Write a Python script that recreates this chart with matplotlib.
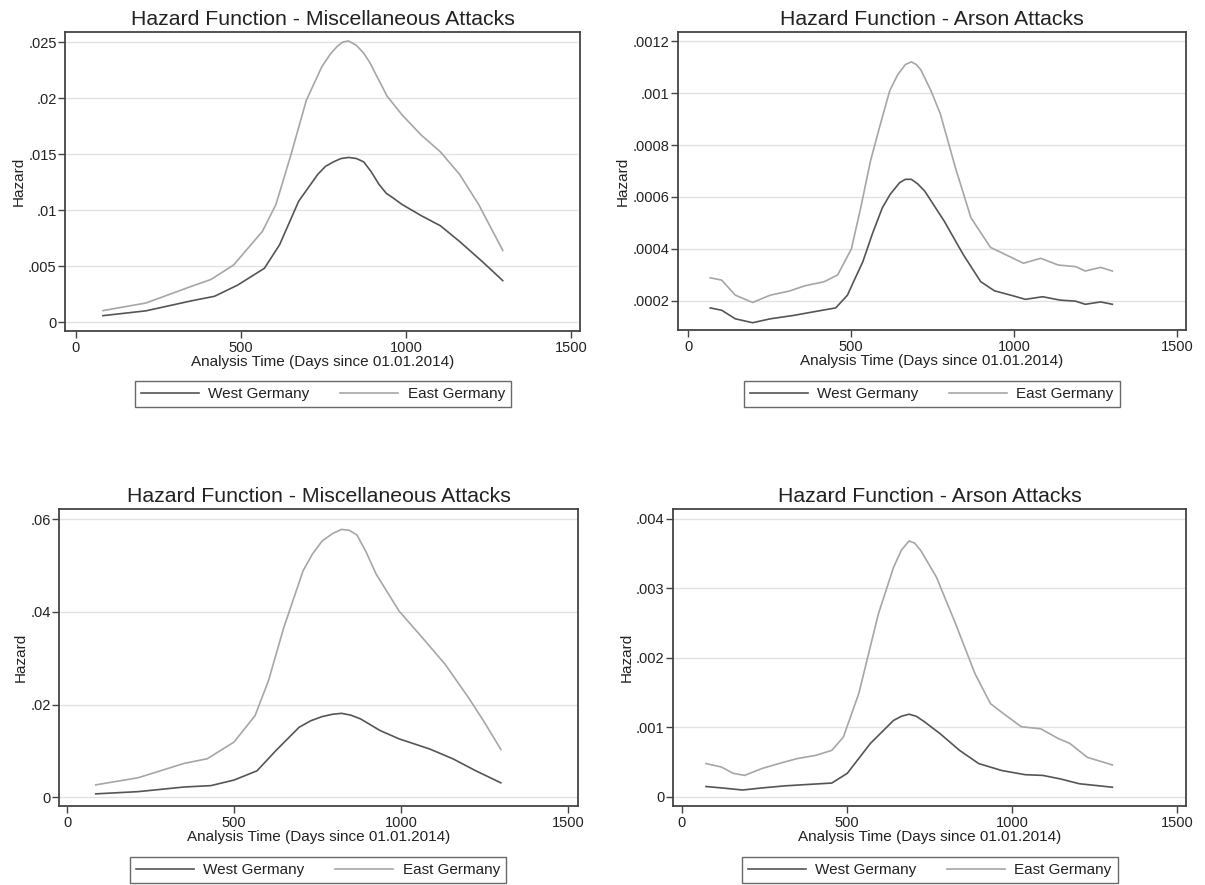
import matplotlib
matplotlib.use("Agg")
import matplotlib.pyplot as plt

plt.rcParams['font.family'] = ['Liberation Sans', 'DejaVu Sans']

W, H = 1205, 885
west_color = '#555555'
east_color = '#a6a6a6'

# panel 1: miscellaneous attacks (top)
misc1_west_x = [82, 212, 351, 420, 490, 571, 617, 675, 733, 756, 780, 803, 826, 850, 872, 895, 918, 940,
                960, 988, 1046, 1104, 1162, 1231, 1293]
misc1_west_y = [0.00057, 0.0010, 0.0019, 0.0023, 0.0033, 0.0048, 0.0069, 0.0108, 0.0132, 0.0139, 0.0143,
                0.0146, 0.0147, 0.0146, 0.0143, 0.0134, 0.0123, 0.0115, 0.0111, 0.0105, 0.0095, 0.0086,
                0.0072, 0.0054, 0.0037]
misc1_east_x = [82, 212, 351, 409, 478, 565, 606, 652, 698, 745, 770, 791, 808, 826, 850, 872, 890, 907,
                925, 942, 988, 1046, 1104, 1162, 1220, 1293]
misc1_east_y = [0.00102, 0.0017, 0.0032, 0.0038, 0.0051, 0.0081, 0.0105, 0.0150, 0.0198, 0.0228, 0.0239,
                0.0246, 0.0250, 0.0251, 0.0247, 0.0240, 0.0232, 0.0222, 0.0212, 0.0202, 0.0185, 0.0167,
                0.0152, 0.0132, 0.0105, 0.0064]

# panel 2: arson attacks (top)
arson1_west_x = [68, 103, 145, 198, 252, 323, 394, 453, 489, 510, 536, 566, 596, 620, 649, 667, 685, 705,
                 726, 786, 845, 898, 940, 999, 1035, 1088, 1142, 1189, 1219, 1266, 1302]
arson1_west_y = [0.000173, 0.000164, 0.000131, 0.000116, 0.000131, 0.000144, 0.000160, 0.000173, 0.000222,
                 0.000280, 0.000350, 0.000460, 0.000558, 0.000610, 0.000655, 0.000668, 0.000668, 0.000650,
                 0.000623, 0.000507, 0.000377, 0.000274, 0.000239, 0.000219, 0.000206, 0.000216, 0.000203,
                 0.000199, 0.000187, 0.000196, 0.000187]
arson1_east_x = [68, 103, 145, 198, 252, 311, 358, 418, 459, 501, 530, 560, 590, 619, 643, 667, 685, 700,
                 714, 745, 774, 821, 868, 928, 976, 1029, 1082, 1136, 1189, 1219, 1266, 1302]
arson1_east_y = [0.000289, 0.000280, 0.000222, 0.000194, 0.000222, 0.000238, 0.000258, 0.000274, 0.000300,
                 0.000400, 0.000560, 0.000740, 0.000880, 0.001010, 0.001070, 0.001110, 0.001120, 0.001110,
                 0.001090, 0.001010, 0.000920, 0.000710, 0.000520, 0.000406, 0.000377, 0.000345, 0.000364,
                 0.000338, 0.000332, 0.000315, 0.000329, 0.000315]

# panel 3: miscellaneous attacks (bottom)
misc2_west_x = [86, 213, 351, 431, 500, 569, 626, 695, 730, 764, 795, 822, 850, 879, 937, 994, 1086, 1155,
                1224, 1299]
misc2_west_y = [0.00072, 0.0012, 0.0022, 0.0025, 0.0037, 0.0057, 0.0101, 0.0151, 0.0165, 0.0174, 0.0179,
                0.0181, 0.0177, 0.0169, 0.0144, 0.0126, 0.0104, 0.0083, 0.0057, 0.0031]
misc2_east_x = [86, 213, 351, 420, 500, 563, 603, 649, 707, 735, 764, 795, 822, 845, 868, 895, 926, 994,
                1063, 1132, 1201, 1247, 1299]
misc2_east_y = [0.00266, 0.0042, 0.0073, 0.0083, 0.0119, 0.0176, 0.0251, 0.0366, 0.0489, 0.0525, 0.0553,
                0.0569, 0.0578, 0.0576, 0.0566, 0.0530, 0.0481, 0.0402, 0.0345, 0.0287, 0.0216, 0.0165,
                0.0103]

# panel 4: arson attacks (bottom)
arson2_west_x = [73, 120, 184, 243, 313, 383, 454, 501, 571, 641, 665, 688, 710, 735, 782, 841, 899, 969,
                 1040, 1093, 1146, 1204, 1304]
arson2_west_y = [0.00015, 0.00013, 0.00010, 0.00013, 0.00016, 0.00018, 0.00020, 0.00034, 0.00077, 0.00110,
                 0.00116, 0.00119, 0.00116, 0.00108, 0.00091, 0.00067, 0.00048, 0.00038, 0.00032, 0.00031,
                 0.00026, 0.00019, 0.00014]
arson2_east_x = [73, 120, 155, 190, 243, 301, 348, 407, 454, 489, 536, 595, 641, 665, 688, 705, 724, 745,
                 771, 829, 888, 935, 982, 1028, 1087, 1140, 1175, 1228, 1304]
arson2_east_y = [0.00048, 0.00043, 0.00034, 0.00031, 0.00041, 0.00049, 0.00055, 0.00060, 0.00067, 0.00086,
                 0.00149, 0.00263, 0.00330, 0.00355, 0.00368, 0.00365, 0.00354, 0.00337, 0.00316, 0.00249,
                 0.00177, 0.00134, 0.00117, 0.00101, 0.00098, 0.00084, 0.00077, 0.00057, 0.00046]

misc1_ticks = [0, 0.005, 0.01, 0.015, 0.02, 0.025]
misc1_labels = ['0', '.005', '.01', '.015', '.02', '.025']
arson1_ticks = [0.0002, 0.0004, 0.0006, 0.0008, 0.001, 0.0012]
arson1_labels = ['.0002', '.0004', '.0006', '.0008', '.001', '.0012']
misc2_ticks = [0, 0.02, 0.04, 0.06]
misc2_labels = ['0', '.02', '.04', '.06']
arson2_ticks = [0, 0.001, 0.002, 0.003, 0.004]
arson2_labels = ['0', '.001', '.002', '.003', '.004']
x_ticks = [0, 500, 1000, 1500]


def rect(left, top, right, bottom):
    return [left / W, 1 - bottom / H, (right - left) / W, (bottom - top) / H]


def draw_panel(fig, box, title, wx, wy, ex, ey, yticks, ylabels, xlim, ylim, legend_center):
    ax = fig.add_axes(rect(*box))
    for yt in yticks:
        ax.axhline(yt, color='#e2e2e2', lw=1.0, zorder=0)
    ax.plot(wx, wy, color=west_color, lw=1.2, label='West Germany', solid_joinstyle='round')
    ax.plot(ex, ey, color=east_color, lw=1.2, label='East Germany', solid_joinstyle='round')
    ax.set_xlim(*xlim)
    ax.set_ylim(*ylim)
    ax.set_xticks(x_ticks)
    ax.set_xticklabels([str(t) for t in x_ticks])
    ax.set_yticks(yticks)
    ax.set_yticklabels(ylabels)
    ax.tick_params(axis='both', direction='out', length=5, width=1.0, color='#444444',
                   labelsize=10.5, labelcolor='#222222', pad=2)
    ax.tick_params(axis='y', pad=1)
    for s in ax.spines.values():
        s.set_color('#444444')
        s.set_linewidth(1.3)
    ax.set_title(title, fontsize=15.3, color='#222222', pad=5)
    ax.set_xlabel('Analysis Time (Days since 01.01.2014)', fontsize=11, color='#222222', labelpad=0)
    ax.set_ylabel('Hazard', fontsize=11, color='#222222', labelpad=2)
    lx, ly = legend_center
    leg = ax.legend(loc='center', bbox_to_anchor=(lx / W, 1 - ly / H), bbox_transform=fig.transFigure,
                    ncol=2, fontsize=11, frameon=True, fancybox=False, handlelength=3.8,
                    handletextpad=0.6, columnspacing=2.0, borderpad=0.4, edgecolor='#444444')
    leg.get_frame().set_linewidth(1.0)
    for t in leg.get_texts():
        t.set_color('#222222')
    return ax


fig = plt.figure(figsize=(W / 100, H / 100), dpi=100)
fig.patch.set_facecolor('white')

draw_panel(fig, (65, 32, 580, 331), 'Hazard Function - Miscellaneous Attacks',
           misc1_west_x, misc1_west_y, misc1_east_x, misc1_east_y,
           misc1_ticks, misc1_labels, (-33, 1527), (-0.0008, 0.0259), (323, 394))
draw_panel(fig, (678, 32, 1186, 330), 'Hazard Function - Arson Attacks',
           arson1_west_x, arson1_west_y, arson1_east_x, arson1_east_y,
           arson1_ticks, arson1_labels, (-31, 1528), (0.000088, 0.001235), (932, 394))
draw_panel(fig, (59, 509, 578, 806), 'Hazard Function - Miscellaneous Attacks',
           misc2_west_x, misc2_west_y, misc2_east_x, misc2_east_y,
           misc2_ticks, misc2_labels, (-24, 1530), (-0.0019, 0.0622), (318, 870))
draw_panel(fig, (673, 509, 1186, 806), 'Hazard Function - Arson Attacks',
           arson2_west_x, arson2_west_y, arson2_east_x, arson2_east_y,
           arson2_ticks, arson2_labels, (-27, 1527), (-0.00013, 0.00414), (930, 870))

fig.savefig('out.png', dpi=100, facecolor='white')
